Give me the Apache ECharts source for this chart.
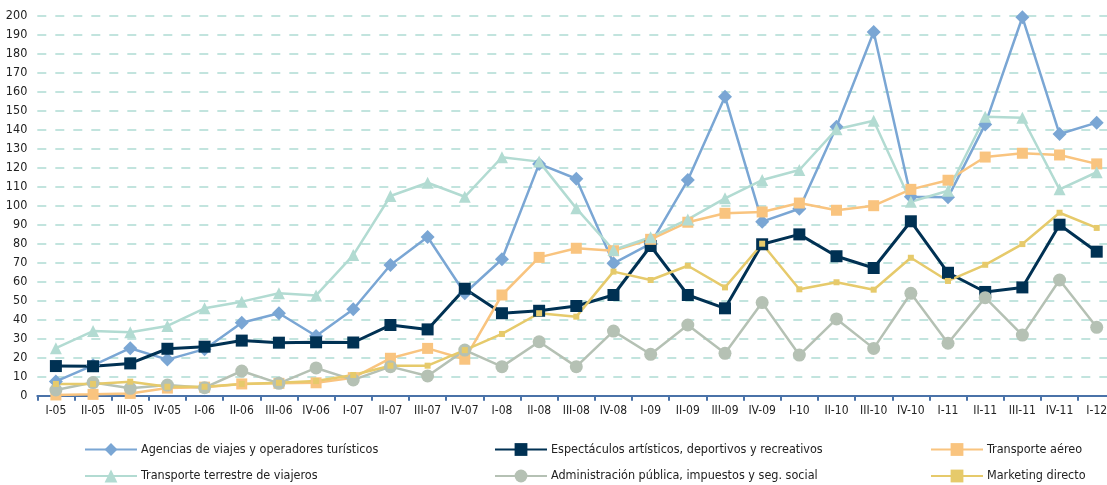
<!DOCTYPE html>
<html>
<head>
<meta charset="utf-8">
<script src="https://cdn.jsdelivr.net/npm/echarts@6/dist/echarts.min.js"></script>
<style>
  html, body { margin: 0; padding: 0; background: #fff; }
  #chart { width: 1107px; height: 485px; }
</style>
</head>
<body>
<div id="chart"></div>
<script>
// trimestres
var categories = ['I-05','II-05','III-05','IV-05','I-06','II-06','III-06','IV-06','I-07','II-07','III-07','IV-07',
  'I-08','II-08','III-08','IV-08','I-09','II-09','III-09','IV-09','I-10','II-10','III-10','IV-10',
  'I-11','II-11','III-11','IV-11','I-12'];

var agencias = [7.5,16,25,19,24.5,38.4,43.4,31.4,45.5,68.8,83.5,53.9,71.8,122,114.2,69.7,80,113.5,157.4,91.6,98.4,141.6,191.4,104.7,104.4,142.8,199.2,137.7,143.7];
var espectaculos = [15.6,15.5,17,24.7,25.8,29,27.9,28.1,28,37.2,34.9,56.3,43.4,44.7,47.2,53,78.8,53,46,79.7,84.9,73.4,67.2,91.8,64.7,54.6,57,90,75.8];
var aereo = [0.4,0.7,1.2,4,4.5,6.2,6.5,6.8,9.5,19.7,24.9,19.2,53,72.8,77.6,76.3,82.3,91.3,96,96.7,101.4,97.6,100,108.6,113.4,125.6,127.6,126.7,122];
var terrestre = [25,34,33.4,36.7,46,49.5,53.9,52.8,74,105.1,112.1,104.7,125.5,123.2,98.6,76.7,83.4,92.8,103.9,113.5,118.8,140.2,144.7,102.1,107.9,146.8,146.3,108.6,117.6];
var administracion = [3,6.9,3.9,5.6,4.2,13,6.5,14.6,8.3,15.3,10.4,24,15.3,28.4,15.3,34,21.8,37.2,22.3,49,21.4,40.4,24.9,53.9,27.6,51.6,31.9,60.9,36];
var marketing = [6.2,6.2,7.4,4.7,4.7,6.2,6.8,7.7,10.9,15.8,15.8,24,32.5,43.4,41.6,65.3,60.9,68.4,57,80,56,59.7,55.8,72.6,60.4,68.9,79.8,96.3,88.3];

var names = ['Agencias de viajes y operadores turísticos','Espectáculos artísticos, deportivos y recreativos','Transporte aéreo',
  'Transporte terrestre de viajeros','Administración pública, impuestos y seg. social','Marketing directo'];

var fontFam = "'Liberation Sans Narrow', 'DejaVu Sans Condensed', 'Arial Narrow', sans-serif";

function serie(name, data, color, symbol, size, width) {
  return {
    name: name, type: 'line', data: data,
    symbol: symbol, symbolSize: size,
    lineStyle: { color: color, width: width },
    itemStyle: { color: color },
    emphasis: { disabled: true },
    animation: false
  };
}

// leyenda en dos filas, tres columnas
var legendCols = [84, 494, 930];
var legendRows = [443, 469.5];
var legends = names.map(function (n, i) {
  return {
    data: [n],
    left: legendCols[i % 3],
    top: legendRows[Math.floor(i / 3)],
    padding: 0,
    itemWidth: 52, itemHeight: 16, itemGap: 4,
    textStyle: { fontFamily: fontFam, fontSize: 12.5, color: '#222', padding: [0, 0, 0, -1] },
    selectedMode: false
  };
});

var chart = echarts.init(document.getElementById('chart'));
chart.setOption({
  backgroundColor: '#fff',
  animation: false,
  grid: { left: 37.3, top: 15.7, width: 1078, height: 380, containLabel: false, outerBoundsMode: 'none' },
  legend: legends,
  xAxis: {
    type: 'category',
    data: categories,
    boundaryGap: true,
    axisLine: { lineStyle: { color: '#4a72a8', width: 2 } },
    axisTick: { show: true, length: 5, lineStyle: { color: '#4a72a8', width: 2 } },
    axisLabel: { fontFamily: fontFam, fontSize: 12, color: '#222', margin: 9, interval: 0 }
  },
  yAxis: {
    type: 'value',
    min: 0, max: 200, interval: 10,
    axisLine: { show: false },
    axisTick: { show: false },
    axisLabel: { fontFamily: fontFam, fontSize: 12.5, color: '#222', margin: 10 },
    splitLine: { lineStyle: { color: '#aedcd3', width: 1.5, type: [9, 9] } }
  },
  series: [
    serie(names[0], agencias, '#7aa6d4', 'diamond', 14, 2.5),
    serie(names[1], espectaculos, '#003153', 'rect', 12, 3),
    serie(names[2], aereo, '#f9c47f', 'rect', 11, 2.5),
    serie(names[3], terrestre, '#b2dbd2', 'triangle', 12, 2.5),
    serie(names[4], administracion, '#b5c1b4', 'circle', 13, 2.5),
    serie(names[5], marketing, '#e6ca6b', 'rect', 6, 2.5)
  ]
});
</script>
</body>
</html>
